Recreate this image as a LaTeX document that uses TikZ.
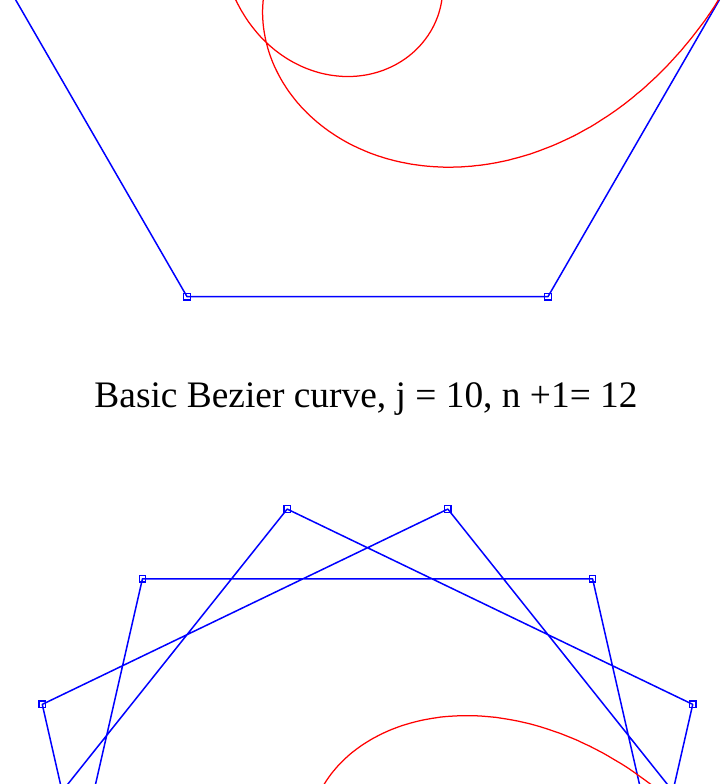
\documentclass[tikz,border=0pt]{standalone}
\usepackage{fontspec}
\setmainfont{Liberation Serif}
\begin{document}
\begin{tikzpicture}[x=1pt,y=-1pt,
  ctrl/.style={draw={rgb,255:red,0;green,0;blue,255},line width=1.5pt,line join=round},
  ptbox/.style={rectangle,draw={rgb,255:red,0;green,0;blue,255},line width=1.3pt,minimum size=6.5pt,inner sep=0pt},
  bcurve/.style={draw={rgb,255:red,255;green,0;blue,0},line width=1.25pt,line join=round},
  declare function={
    qa(\t)=1-\t+\t*\t;
    qb(\t)=(1-0.777479*\t)^2+(0.974928*\t)^2;
  }]
\useasboundingbox (0,0) rectangle (725,784);
\clip (0,0) rectangle (725,784);
% ---------- top figure: j = 10, n+1 = 12 ----------
\foreach \k in {0,...,11}
  \coordinate (a\k) at ({367.5+361*cos(-60*\k)},{-16-361*sin(-60*\k)});
\draw[ctrl] (a0) \foreach \k in {1,...,11}{ -- (a\k)};
\foreach \k in {0,...,11}
  \node[ptbox] (ma\k) at (a\k) {};
\draw[bcurve] plot[domain=0:1,samples=600,variable=\t]
  ({367.5+361*exp(5.5*ln(qa(\t)))*cos(11*atan2(-0.866025*\t,1-0.5*\t))},
   {-16-361*exp(5.5*ln(qa(\t)))*sin(11*atan2(-0.866025*\t,1-0.5*\t))});
% ---------- caption ----------
\node[font=\fontsize{37.4}{44}\selectfont,anchor=base,inner sep=0pt] (cap) at (366,407)
  {Basic Bezier curve, j = 10, n +1= 12};
% ---------- bottom figure ----------
\foreach \k in {0,...,13}
  \coordinate (b\k) at ({367.5+361*cos(540/7*\k)},{861-361*sin(540/7*\k)});
\draw[ctrl] (b0) \foreach \k in {1,...,13}{ -- (b\k)};
\foreach \k in {0,...,13}
  \node[ptbox] (mb\k) at (b\k) {};
\draw[bcurve] plot[domain=0:1,samples=600,variable=\t]
  ({367.5+361*exp(6.5*ln(qb(\t)))*cos(13*atan2(0.974928*\t,1-0.777479*\t))},
   {861-361*exp(6.5*ln(qb(\t)))*sin(13*atan2(0.974928*\t,1-0.777479*\t))});
\end{tikzpicture}
\end{document}
